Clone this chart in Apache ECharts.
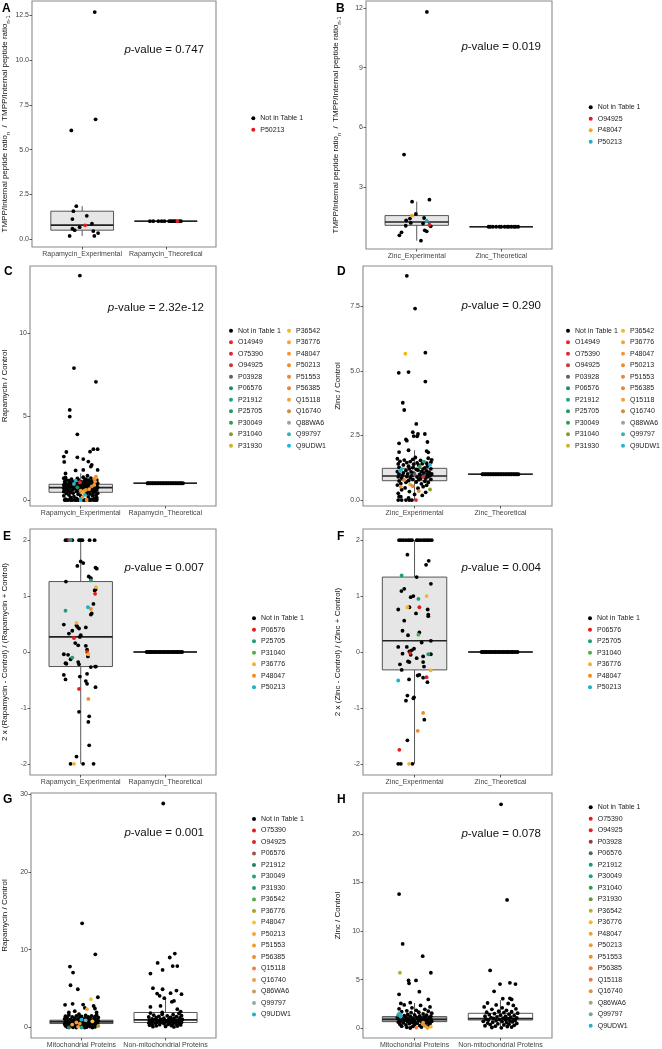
<!DOCTYPE html>
<html><head><meta charset="utf-8">
<script src="https://cdn.jsdelivr.net/npm/echarts@6/dist/echarts.min.js"></script>
<style>html,body{margin:0;padding:0;background:#fff}#c{width:662px;height:1049px}</style>
</head><body><div id="c"></div>
<script>
// ---------------- DATA ----------------
const catsRapa = ['Rapamycin_Experimental', 'Rapamycin_Theoretical'];
const catsZinc = ['Zinc_Experimental', 'Zinc_Theoretical'];
const catsMito = ['Mitochondrial Proteins', 'Non-mitochondrial Proteins'];

const legA = ['Not in Table 1', 'P50213'];
const legB = ['Not in Table 1', 'O94925', 'P48047', 'P50213'];
const legCD = ['Not in Table 1','O14949','O75390','O94925','P03928','P06576','P21912','P25705','P30049','P31040','P31930',
               'P36542','P36776','P48047','P50213','P51553','P56385','Q15118','Q16740','Q88WA6','Q99797','Q9UDW1'];
const legEF = ['Not in Table 1','P06576','P25705','P31040','P36776','P48047','P50213'];
const legG = ['Not in Table 1','O75390','O94925','P06576','P21912','P30049','P31930','P36542','P36776','P48047','P50213',
              'P51553','P56385','Q15118','Q16740','Q86WA6','Q99797','Q9UDW1'];
const legH = ['Not in Table 1','O75390','O94925','P03928','P06576','P21912','P30049','P31040','P31930','P36542','P36776',
              'P48047','P50213','P51553','P56385','Q15118','Q16740','Q86WA6','Q99797','Q9UDW1'];

const colA = ['#000000', '#e41a1c'];
const colB = ['#000000', '#e41a1c', '#f5a623', '#17b3c8'];
const colCD = ['#000000','#e8262a','#e0282e','#c83a3a','#606060','#1b8f6a','#20a57a','#1d9e5c','#27a04f','#8a9a2a','#d2b22a',
               '#f5b81c','#f7a33a','#f39532','#f38a2c','#f0832c','#f0803c','#f2a030','#c79040','#a0a0a0','#3cb0b0','#20b4d8'];
const colEF = ['#000000','#e41a1c','#1b9e77','#4daf4a','#f5b230','#f08a24','#17b3c8'];
const colG = ['#000000','#e41a1c','#d62728','#a0524d','#2a7f62','#1fa187','#22a06b','#4daf4a','#a8a030','#f5c242','#f5a53a',
              '#f59a30','#f08a30','#f08040','#f0a040','#c0a060','#88b0a8','#17b0c8'];
const colH = ['#000000','#e41a1c','#d62728','#9b3a3a','#4a6a5a','#1a9a7a','#1fa187','#2aa050','#5aa030','#b8b030','#f5b830',
              '#f5a030','#f59a30','#f08a30','#f08040','#f07a3a','#e09040','#b0a080','#70a8a0','#20b0d0'];

// points: [jitter, value, legendIndex]
const A_exp = [[0.15,12.68,0],[0.16,6.69,0],[-0.13,6.07,0],[-0.07,1.84,0],[-0.105,1.56,0],[0.055,1.30,0],[-0.117,1.12,0],
  [0.117,0.86,0],[0.035,0.77,1],[-0.03,0.67,0],[-0.117,0.58,0],[-0.09,0.50,0],[0.133,0.45,0],[0.19,0.34,0],[0.145,0.18,0],[-0.15,0.18,0]];
const A_theo = [[-0.19,1,0],[-0.15,1,0],[-0.09,1,0],[-0.05,1,0],[-0.016,1,0],[0.04,1,0],[0.06,1,0],[0.08,1,0],[0.1,1,0],
  [0.12,1,0],[0.14,1,1],[0.16,1,0],[0.18,1,0]];
const A_box = [[1,0.18,0.50,0.78,1.56,1.84],[2,1,1,1,1,1]];

const B_exp = [[0.12,11.8,0],[-0.15,4.63,0],[0.15,2.36,0],[-0.055,2.26,0],[-0.01,1.64,0],[-0.055,1.56,2],[0.087,1.44,0],
  [-0.08,1.41,0],[-0.125,1.32,0],[0.118,1.3,3],[-0.07,1.19,0],[0.075,1.16,0],[0.15,1.1,1],[-0.13,1.05,0],[0.165,1.02,0],
  [0.095,0.82,0],[0.118,0.77,0],[-0.18,0.72,0],[-0.205,0.57,0],[0.05,0.3,0]];
const B_theo = [[-0.15,1,0],[-0.13,1,0],[-0.1,1,0],[-0.06,1,0],[-0.02,1,0],[0.0,1,0],[0.04,1,0],[0.07,1,0],[0.09,1,0],
  [0.12,1,0],[0.15,1,0],[0.17,1,0],[0.2,1,0]];
const B_box = [[1,0.3,1.07,1.24,1.56,2.26],[2,1,1,1,1,1]];

const C_exp = [[-0.01,13.43,0],[-0.08,7.89,0],[0.18,7.07,0],[-0.13,5.39,0],[-0.13,4.99,0],[-0.04,3.93,0],[0.15,3.04,0],
  [0.2,3.04,0],[0.11,2.89,0],[-0.17,2.87,0],[-0.2,2.6,0],[-0.04,2.55,0],[0.03,2.45,0],[0.09,2.3,0],[-0.195,2.28,0],
  [0.13,2.1,0],[0.12,2.0,0],[0.03,1.8,0],[0.2,1.8,0],[-0.06,1.77,0],[-0.18,1.59,0],[0.08,1.45,0],[0.18,1.4,14],
  [-0.18,1.35,0],[0.03,1.36,0],[0.18,1.33,17],[-0.2,1.3,0],[-0.04,1.29,0],[0.12,1.31,0],[-0.11,1.25,0],[0.06,1.24,0],
  [0.16,1.26,14],[-0.17,1.2,0],[-0.03,1.21,0],[0.09,1.19,0],[0.19,1.2,0],[-0.14,1.15,0],[-0.06,1.16,21],[0.04,1.14,0],
  [0.14,1.15,0],[-0.19,1.1,0],[-0.09,1.11,0],[0.0,1.09,0],[0.11,1.1,0],[0.17,1.1,13],[-0.13,1.05,0],[-0.01,1.06,1],
  [0.06,1.04,0],[0.15,1.05,0],[-0.18,1.0,0],[-0.1,1.01,0],[-0.05,0.99,0],[0.03,1.0,0],[0.08,1.02,0],[0.13,0.98,0],
  [0.2,1.0,0],[-0.15,0.95,0],[-0.08,0.96,20],[0.02,0.94,0],[0.1,0.95,0],[0.18,0.93,0],[-0.2,0.9,0],[-0.12,0.91,0],
  [-0.03,0.89,0],[0.06,0.9,0],[0.11,0.91,0],[0.16,0.9,17],[-0.16,0.85,0],[-0.07,0.86,0],[0.01,0.84,0],[0.08,0.85,0],
  [0.14,0.86,0],[0.19,0.84,0],[-0.19,0.8,0],[-0.11,0.81,0],[-0.02,0.79,0],[0.04,0.8,0],[0.09,0.8,0],[0.13,0.81,15],
  [0.17,0.79,0],[-0.14,0.75,0],[-0.04,0.76,5],[0.05,0.74,0],[0.15,0.75,0],[0.2,0.76,0],[-0.2,0.7,0],[-0.16,0.71,0],
  [-0.08,0.69,0],[0.0,0.7,0],[0.07,0.71,0],[0.12,0.69,0],[0.18,0.7,0],[-0.13,0.65,0],[-0.06,0.66,0],[0.03,0.64,0],
  [0.1,0.65,12],[0.16,0.66,0],[-0.18,0.6,0],[-0.1,0.61,0],[-0.02,0.59,0],[0.06,0.6,14],[0.14,0.61,0],[0.19,0.6,0],
  [-0.15,0.55,0],[0.0,0.56,13],[0.04,0.54,10],[0.12,0.55,0],[-0.2,0.5,0],[-0.05,0.51,0],[0.09,0.49,0],[0.17,0.5,0],
  [-0.12,0.45,0],[0.02,0.46,11],[0.15,0.44,0],[-0.17,0.4,0],[-0.09,0.41,0],[0.07,0.39,0],[0.2,0.4,0],[-0.03,0.35,0],
  [0.11,0.36,0],[-0.14,0.3,0],[0.05,0.31,21],[0.18,0.29,0],[-0.2,0.25,0],[0.0,0.24,0],[0.14,0.26,0],[-0.08,0.2,0],
  [0.09,0.19,0],[-0.12,0.15,0],[0.02,0.16,13],[0.19,0.14,0],[-0.05,0.1,0],[0.16,0.09,0],[-0.18,0.05,0],[0.12,0.04,0],
  [-0.19,0,0],[-0.17,0,0],[-0.15,0,0],[-0.12,0,0],[-0.1,0,0],[-0.07,0,0],[-0.05,0,0],[-0.03,0,0],[0.0,0,21],[0.03,0,0],
  [0.05,0,0],[0.07,0,14],[0.1,0,0],[0.12,0,0],[0.15,0,0],[0.17,0,0],[0.19,0,0]];
const C_theo = [[-0.21,1,0],[-0.2,1,0],[-0.18,1,0],[-0.17,1,0],[-0.15,1,0],[-0.14,1,0],[-0.12,1,0],[-0.11,1,0],[-0.09,1,0],
  [-0.08,1,0],[-0.06,1,0],[-0.05,1,0],[-0.03,1,0],[-0.02,1,0],[0.0,1,0],[0.01,1,0],[0.03,1,0],[0.04,1,0],[0.06,1,0],
  [0.07,1,0],[0.09,1,0],[0.1,1,0],[0.12,1,0],[0.13,1,0],[0.15,1,0],[0.16,1,0],[0.18,1,0],[0.19,1,0],[0.21,1,0]];
const C_box = [[1,0,0.46,0.74,0.94,1.6],[2,1,1,1,1,1]];

const D_exp = [[-0.09,8.69,0],[0.006,7.42,0],[0.126,5.71,0],[-0.107,5.67,11],[-0.184,4.93,0],[-0.07,4.96,0],[0.126,4.59,0],
  [-0.137,3.77,0],[-0.12,3.49,0],[0.02,2.95,0],[-0.02,2.63,0],[-0.01,2.48,0],[0.03,2.47,0],[0.04,2.56,0],[0.12,2.56,0],
  [-0.1,2.35,0],[-0.09,2.3,0],[-0.18,2.2,0],[-0.07,1.93,0],[0.15,2.25,0],[0.16,1.85,0],[0.14,1.9,0],[-0.18,1.86,0],
  [0.01,1.65,0],
  [-0.2,1.6,0],[-0.02,1.58,0],[0.16,1.62,0],[-0.12,1.55,0],[0.07,1.54,0],[0.2,1.56,0],[-0.17,1.5,0],[-0.05,1.49,0],
  [0.11,1.49,6],[0.19,1.47,0],[-0.09,1.45,0],[0.03,1.44,0],[0.14,1.43,0],[-0.19,1.4,0],[-0.01,1.39,0],[0.09,1.41,0],
  [-0.13,1.36,0],[0.05,1.35,0],[0.18,1.36,21],[-0.07,1.31,0],[0.06,1.3,8],[0.15,1.32,0],[-0.18,1.27,0],[-0.02,1.26,0],
  [0.12,1.25,0],[-0.15,1.2,20],[-0.06,1.21,0],[0.02,1.19,0],[0.1,1.2,0],[0.19,1.21,0],[-0.17,1.14,21],[-0.1,1.15,0],
  [0.04,1.16,0],[0.14,1.13,0],[-0.2,1.1,0],[-0.04,1.09,0],[0.08,1.1,0],[0.17,1.08,0],[-0.13,1.05,0],[-0.01,1.04,0],
  [0.11,1.05,0],[-0.18,1.0,0],[-0.08,1.01,0],[0.0,1.0,4],[0.06,0.99,0],[0.15,1.0,0],[0.2,1.01,0],[-0.14,0.95,0],
  [-0.03,0.96,0],[0.09,0.94,0],[0.18,0.95,0],[-0.19,0.9,0],[-0.09,0.91,0],[0.03,0.89,0],[0.1,0.9,3],[0.16,0.91,0],
  [-0.15,0.85,0],[-0.05,0.86,0],[0.07,0.84,0],[0.13,0.85,0],[-0.12,0.78,14],[-0.02,0.8,0],[0.05,0.79,0],[0.19,0.8,0],
  [-0.18,0.74,0],[-0.07,0.75,0],[0.12,0.73,0],[-0.1,0.69,0],[0.02,0.7,0],[0.16,0.68,0],[-0.16,0.64,0],[-0.05,0.6,10],
  [0.08,0.63,0],[-0.2,0.58,0],[0.14,0.57,0],[-0.16,0.52,13],[-0.02,0.54,16],[0.1,0.52,0],[-0.11,0.47,0],[0.04,0.46,0],
  [0.18,0.41,9],[-0.15,0.4,0],[0.05,0.35,15],[-0.06,0.33,0],[0.13,0.3,0],[-0.19,0.26,0],[0.0,0.22,0],[0.09,0.18,0],
  [-0.18,0.13,0],[-0.16,0.13,0],[-0.07,0.08,0],[-0.19,0,0],[-0.15,0,0],[-0.1,0,0],[-0.06,0,0],[-0.03,0,0],[0.017,0,1]];
const D_theo = [[-0.21,1,0],[-0.2,1,0],[-0.18,1,0],[-0.17,1,0],[-0.15,1,0],[-0.14,1,0],[-0.12,1,0],[-0.11,1,0],[-0.09,1,0],
  [-0.08,1,0],[-0.06,1,0],[-0.05,1,0],[-0.03,1,0],[-0.02,1,0],[0.0,1,0],[0.01,1,0],[0.03,1,0],[0.04,1,0],[0.06,1,0],
  [0.07,1,0],[0.09,1,0],[0.1,1,0],[0.12,1,0],[0.13,1,0],[0.15,1,0],[0.16,1,0],[0.18,1,0],[0.19,1,0],[0.21,1,0]];
const D_box = [[1,0,0.75,0.93,1.23,1.93],[2,1,1,1,1,1]];

const E_exp = [[-0.18,2,0],[-0.16,2,0],[-0.137,2,1],[-0.12,2,2],[-0.1,2,0],[-0.02,2,0],[0,2,0],[0.02,2,0],[0.105,2,0],[0.164,2,0],
  [0,1.62,0],[0.03,1.59,0],[-0.04,1.54,0],[0.175,1.51,0],[0.19,1.49,0],[0.095,1.35,0],[0.12,1.32,0],[-0.175,1.26,0],
  [0.12,1.28,2],[0.175,1.12,0],[0.18,1.16,4],[0.165,1.10,0],[0.17,1.04,1],[-0.18,0.74,2],[0.085,0.80,6],[0.12,0.77,5],
  [0.15,0.86,0],[0.13,0.69,0],[0.12,0.67,0],[-0.2,0.49,0],[-0.05,0.52,4],[-0.05,0.48,0],[0.06,0.44,0],[-0.04,0.45,0],
  [-0.02,0.42,0],[-0.1,0.38,0],[-0.14,0.33,0],[0,0.30,0],[-0.01,0.27,0],[-0.08,0.25,1],[-0.065,0.16,0],[-0.03,0.12,0],
  [-0.2,-0.04,0],[-0.15,-0.05,0],[0.06,0.11,0],[0.075,0.04,0],[0.075,0,1],[0.09,-0.04,4],[0.085,-0.08,0],[-0.18,-0.2,0],
  [-0.17,-0.21,0],[-0.1,-0.1,2],[-0.12,-0.13,0],[-0.03,-0.18,0],[-0.02,-0.22,0],[0.12,-0.27,0],[0.17,-0.26,0],
  [0.18,-0.26,0],[-0.01,-0.44,0],[-0.2,-0.41,0],[-0.18,-0.49,0],[0.075,-0.39,0],[0.06,-0.52,0],[0.075,-0.57,0],
  [0.175,-0.63,0],[-0.02,-0.66,1],[0.09,-0.84,5],[-0.02,-1.07,0],[0.1,-1.15,0],[0.09,-1.25,0],[0.1,-1.67,0],
  [-0.05,-1.87,0],[-0.12,-2,0],[-0.08,-2,4],[0.028,-2,0],[0.152,-2,0]];
const E_theo = [[-0.22,0,0],[-0.2,0,0],[-0.19,0,0],[-0.17,0,0],[-0.16,0,0],[-0.14,0,0],[-0.12,0,0],[-0.11,0,0],[-0.09,0,0],
  [-0.07,0,0],[-0.06,0,0],[-0.04,0,0],[-0.02,0,0],[-0.01,0,0],[0.01,0,0],[0.03,0,0],[0.04,0,0],[0.06,0,0],[0.08,0,0],
  [0.09,0,0],[0.11,0,0],[0.13,0,0],[0.14,0,0],[0.16,0,0],[0.18,0,0],[0.2,0,0]];
const E_box = [[1,-2,-0.26,0.27,1.26,2],[2,0,0,0,0,0]];

const F_exp = [[-0.18,2,0],[-0.157,2,0],[-0.13,2,0],[-0.1,2,0],[-0.072,2,0],[-0.052,2,0],[-0.029,2,0],[0.025,2,0],[0.045,2,0],
  [0.072,2,0],[0.103,2,0],[0.126,2,0],[0.15,2,0],[0.173,2,0],[0.2,2,0],[-0.083,1.74,0],[0.165,1.63,0],[0.134,1.56,0],
  [-0.15,1.37,2],[0.025,1.34,0],[0.19,1.22,0],[-0.12,1.13,0],[-0.153,1.09,0],[0.14,1.0,4],[-0.014,1.0,0],[-0.045,0.98,0],
  [0.045,0.95,2],[-0.19,0.76,0],[-0.083,0.8,4],[-0.06,0.8,0],[0.056,0.8,1],[0.153,0.76,0],[0.16,0.67,0],[0.16,0.64,0],
  [0.017,0.69,0],[-0.12,0.56,0],[-0.14,0.38,0],[0.045,0.31,3],[0.056,0.35,0],[-0.076,0.30,0],[0.19,0.2,0],[0.083,0.17,0],
  [-0.19,0.09,0],[-0.09,0.09,0],[-0.006,0.06,0],[-0.033,0.03,0],[-0.06,0.01,0],[-0.052,-0.02,1],[-0.045,-0.05,0],
  [-0.14,-0.03,0],[0.16,-0.04,2],[0.19,-0.04,0],[0.1,-0.08,0],[0.025,-0.11,0],[-0.076,-0.17,0],[-0.06,-0.18,0],
  [-0.17,-0.22,0],[0.1,-0.18,0],[0.11,-0.26,0],[-0.15,-0.32,0],[0.188,-0.33,4],[0.056,-0.41,0],[0.037,-0.42,0],
  [0.14,-0.45,1],[0.1,-0.46,0],[-0.064,-0.49,0],[0.15,-0.54,0],[-0.19,-0.51,6],[-0.083,-0.78,0],[-0.1,-0.87,0],
  [-0.006,-0.81,0],[-0.014,-0.83,0],[0.1,-1.09,5],[0.114,-1.21,0],[0.037,-1.41,5],[-0.083,-1.58,0],[-0.177,-1.75,1],
  [-0.19,-2,0],[-0.16,-2,0],[-0.064,-2,4],[-0.025,-2,0]];
const F_theo = [[-0.22,0,0],[-0.2,0,0],[-0.19,0,0],[-0.17,0,0],[-0.16,0,0],[-0.14,0,0],[-0.12,0,0],[-0.11,0,0],[-0.09,0,0],
  [-0.07,0,0],[-0.06,0,0],[-0.04,0,0],[-0.02,0,0],[-0.01,0,0],[0.01,0,0],[0.03,0,0],[0.04,0,0],[0.06,0,0],[0.08,0,0],
  [0.09,0,0],[0.11,0,0],[0.13,0,0],[0.14,0,0],[0.16,0,0],[0.18,0,0],[0.2,0,0]];
const F_box = [[1,-2,-0.32,0.2,1.34,2],[2,0,0,0,0,0]];

const G_mito = [[0.008,13.39,0],[0.165,9.41,0],[-0.137,7.83,0],[-0.1,7.06,0],[-0.13,5.43,0],[-0.043,4.92,0],[0.195,3.89,0],
  [0.113,3.64,9],[-0.195,2.91,0],[-0.105,3.04,0],[0.02,2.95,0],[0.04,2.52,0],[0.066,2.35,10],[0.16,2.44,0],[0.145,2.78,0],
  [-0.08,2.1,0],[-0.15,1.93,0],[-0.03,1.71,0],[0.18,1.93,0],
  [-0.15,1.6,0],[0.05,1.55,0],[0.18,1.62,0],[-0.06,1.5,0],[0.12,1.48,0],[-0.19,1.45,0],[0.0,1.42,0],[0.16,1.4,0],
  [-0.11,1.36,0],[0.08,1.35,0],[-0.02,1.3,0],[0.2,1.3,0],[-0.17,1.26,0],[0.1,1.24,0],[-0.08,1.2,0],[0.04,1.18,0],
  [0.15,1.15,0],[-0.2,1.12,0],[-0.04,1.1,0],[0.07,1.08,0],[0.18,1.05,0],[-0.13,1.03,0],[0.0,1.0,17],[0.11,0.98,0],
  [-0.18,0.96,0],[-0.07,0.94,0],[0.05,0.92,16],[0.16,0.9,0],[-0.1,0.88,0],[0.2,0.86,0],[-0.15,0.84,0],[0.02,0.82,0],
  [0.13,0.8,9],[-0.03,0.78,0],[-0.19,0.76,0],[0.08,0.74,0],[0.18,0.72,0],[-0.12,0.7,0],[0.0,0.68,0],[0.1,0.66,0],
  [-0.06,0.64,11],[-0.17,0.62,0],[0.15,0.6,0],[0.05,0.58,0],[-0.09,0.56,0],[0.19,0.54,0],[-0.14,0.52,0],[-0.02,0.5,12],
  [0.09,0.48,0],[-0.2,0.46,0],[0.14,0.44,0],[-0.05,0.42,0],[0.03,0.4,0],[-0.11,0.38,10],[0.17,0.36,0],[-0.16,0.33,0],
  [0.07,0.31,0],[-0.01,0.29,0],[0.12,0.26,0],[-0.08,0.24,0],[-0.19,0.21,0],[0.2,0.19,8],[0.02,0.17,0],[-0.13,0.14,0],
  [0.1,0.12,0],[-0.04,0.09,14],[0.16,0.07,0],[-0.17,0.05,0],[0.06,0.04,0],[-0.1,0.02,0],[-0.06,0,0],[0.0,0,5],
  [0.04,0,0],[0.13,0,0],[-0.15,0,4]];
const G_non = [[-0.027,28.8,0],[-0.094,8.3,0],[0.11,9.5,0],[0.05,9.0,0],[0.085,7.9,0],[0.14,7.9,0],[-0.035,7.4,0],
  [-0.18,6.93,0],[-0.15,5.05,0],[-0.035,4.92,0],[0.13,4.75,0],[0.06,4.41,0],[0.19,4.28,0],[-0.1,4.36,0],[-0.07,4.07,0],
  [-0.015,3.77,0],[0.075,3.3,0],[0.1,3.42,0],[-0.18,2.65,0],[-0.06,2.78,0],[0.14,2.35,0],[-0.04,1.93,0],[0.18,2.05,0],
  [-0.18,1.85,0],[0.16,1.8,0],[-0.04,1.7,0],[0.09,1.65,0],[-0.14,1.58,0],[0.19,1.52,0],[0.02,1.5,0],[-0.08,1.44,0],
  [0.13,1.4,0],[-0.2,1.35,0],[0.06,1.3,0],[-0.11,1.26,0],[0.17,1.22,0],[-0.02,1.2,0],[0.1,1.16,0],[-0.16,1.12,0],
  [0.04,1.1,0],[-0.06,1.06,0],[0.2,1.04,0],[-0.13,1.0,0],[0.07,0.98,0],[0.14,0.96,0],[-0.19,0.94,0],[-0.01,0.92,0],
  [0.11,0.9,0],[-0.09,0.88,0],[0.18,0.86,0],[0.03,0.84,0],[-0.15,0.82,0],[0.08,0.8,0],[-0.04,0.78,0],[0.15,0.76,0],
  [-0.18,0.74,0],[0.0,0.72,0],[0.12,0.7,0],[-0.1,0.68,0],[0.19,0.66,0],[-0.06,0.64,0],[0.05,0.62,0],[-0.2,0.6,0],
  [0.16,0.58,0],[-0.12,0.55,0],[0.09,0.52,0],[-0.02,0.5,0],[0.13,0.46,0],[-0.16,0.43,0],[0.03,0.4,0],[-0.07,0.36,0],
  [0.18,0.33,0],[-0.19,0.3,0],[0.07,0.26,0],[-0.11,0.22,0],[0.14,0.18,0],[0.0,0.14,0],[-0.15,0.1,0],[0.1,0.08,0]];
const G_box = [[1,0,0.51,0.73,0.94,1.6],[2,0.05,0.64,0.98,1.93,3.77]];

const H_mito = [[-0.18,13.8,0],[-0.138,8.68,0],[0.095,7.42,0],[-0.17,5.71,9],[0.19,5.71,0],[-0.07,4.92,0],[0.017,4.92,0],
  [-0.064,4.62,0],[0.056,3.76,0],[-0.18,3.49,0],[-0.16,2.56,0],[-0.05,2.63,0],[0.16,2.97,0],
  [-0.12,2.4,0],[0.07,2.35,0],[0.18,2.2,0],[-0.03,2.1,0],[-0.18,2.0,0],[0.12,1.95,0],[0.02,1.85,0],[-0.09,1.8,0],
  [0.16,1.75,0],[-0.15,1.7,0],[0.05,1.65,0],[-0.04,1.6,0],[0.2,1.55,0],[-0.18,1.52,18],[-0.17,1.45,19],[0.1,1.48,0],
  [-0.08,1.42,0],[0.0,1.38,0],[-0.19,1.35,5],[0.14,1.35,0],[-0.12,1.3,0],[0.06,1.27,0],[0.19,1.25,0],[-0.05,1.22,0],
  [-0.16,1.2,19],[0.11,1.18,0],[0.02,1.15,0],[-0.1,1.12,0],[0.17,1.1,0],[-0.2,1.08,0],[0.07,1.05,0],[-0.02,1.02,0],
  [0.13,1.0,0],[-0.14,0.98,0],[0.04,0.96,0],[-0.07,0.94,0],[0.19,0.92,0],[0.09,0.9,0],[-0.18,0.88,0],[-0.01,0.86,0],
  [0.15,0.84,0],[-0.11,0.82,0],[0.05,0.8,0],[-0.04,0.78,0],[0.12,0.76,0],[-0.16,0.74,0],[0.2,0.72,0],[0.0,0.7,0],
  [-0.08,0.68,0],[0.08,0.66,0],[-0.19,0.64,0],[0.16,0.62,0],[-0.03,0.6,0],[0.1,0.57,11],[-0.13,0.55,0],[0.03,0.52,0],
  [0.18,0.5,0],[-0.06,0.47,0],[0.13,0.44,0],[-0.17,0.42,0],[0.1,0.4,13],[0.0,0.37,0],[-0.1,0.34,0],[0.17,0.31,0],
  [0.06,0.28,0],[0.12,0.24,9],[-0.15,0.22,0],[-0.02,0.19,0],[0.19,0.16,10],[0.08,0.13,0],[-0.09,0.1,0],[0.02,0.07,15],
  [0.15,0.05,12],[-0.05,0.03,0]];
const H_non = [[0.007,23.04,0],[0.077,13.2,0],[-0.12,5.95,0],[-0.005,4.55,0],[0.11,4.68,0],[0.175,4.55,0],[-0.074,3.8,0],
  [0.027,3.04,0],[0.11,3.08,0],[0.13,2.97,0],
  [-0.15,2.6,0],[0.09,2.55,0],[-0.05,2.4,0],[0.15,2.35,0],[-0.19,2.2,0],[0.02,2.1,0],[0.18,2.0,0],[-0.1,1.95,0],
  [0.07,1.85,0],[-0.02,1.75,0],[0.13,1.7,0],[-0.16,1.65,0],[0.04,1.6,0],[0.2,1.55,0],[-0.07,1.5,0],[0.1,1.45,0],
  [-0.13,1.4,0],[0.0,1.35,0],[0.16,1.3,0],[-0.18,1.25,0],[0.06,1.22,0],[-0.04,1.18,0],[0.12,1.15,0],[-0.11,1.1,0],
  [0.19,1.07,0],[0.03,1.04,0],[-0.08,1.01,0],[0.09,0.98,0],[-0.17,0.95,0],[0.15,0.92,0],[-0.01,0.9,0],[0.06,0.87,0],
  [-0.14,0.84,0],[0.17,0.81,0],[-0.05,0.78,0],[0.11,0.75,0],[-0.2,0.72,0],[0.02,0.69,0],[0.14,0.65,0],[-0.09,0.62,0],
  [0.07,0.58,0],[-0.15,0.54,0],[0.19,0.5,0],[-0.03,0.46,0],[0.1,0.42,0],[-0.12,0.38,0],[0.04,0.34,0],[0.16,0.3,0],
  [-0.18,0.26,0],[-0.06,0.22,0],[0.08,0.18,0],[0.13,0.12,0],[-0.1,0.08,0],[0.01,0.05,0]];
const H_box = [[1,0.03,0.68,0.92,1.2,2.6],[2,0.05,0.85,0.99,1.54,2.9]];

const yTicksA = [0, 2.5, 5, 7.5, 10, 12.5];
const yTicksB = [3, 6, 9, 12];
const yTicksC = [0, 5, 10];
const yTicksD = [0, 2.5, 5, 7.5];
const yTicksEF = [-2, -1, 0, 1, 2];
const yTicksG = [0, 10, 20, 30];
const yTicksH = [0, 5, 10, 15, 20];

const pValues = ['0.747', '0.019', '2.32e-12', '0.290', '0.007', '0.004', '0.001', '0.078'];

// ---------------- LAYOUT ----------------
const FONT = '"Liberation Sans", Arial, sans-serif';
const ratioName = '{t|TMPP/Internal peptide ratio}{s|n}{t|  /  TMPP/Internal peptide ratio}{s|n-1}';
const panels = [
  {id:'A', grid:{left:28, top:1, width:188, height:246}, y:[-0.44,13.3], ticks:yTicksA, dec:1, cats:catsRapa,
   p1:A_exp, p2:A_theo, box:A_box, fill:['#e6e6e6','#e6e6e6'], leg:legA, col:colA, name:ratioName, gap:21,
   legends:[{left:251.3, top:112.5, from:0, to:2}], pRight:204, pY:50, letter:[2,2.5]},
  {id:'B', grid:{left:366, top:1, width:186, height:248}, y:[-0.12,12.35], ticks:yTicksB, dec:0, cats:catsZinc,
   p1:B_exp, p2:B_theo, box:B_box, fill:['#e6e6e6','#e6e6e6'], leg:legB, col:colB, name:ratioName, gap:24,
   legends:[{left:588.7, top:101.6, from:0, to:4}], pRight:541, pY:47, letter:[336,2.5]},
  {id:'C', grid:{left:28, top:266, width:188, height:240}, y:[-0.36,14.0], ticks:yTicksC, dec:0, cats:catsRapa,
   p1:C_exp, p2:C_theo, box:C_box, fill:['#e6e6e6','#e6e6e6'], leg:legCD, col:colCD, name:'Rapamycin / Control', gap:21,
   legends:[{left:229, top:325, from:0, to:11},{left:287, top:325, from:11, to:22}], pRight:204, pY:308, letter:[4,265.5]},
  {id:'D', grid:{left:363, top:266, width:189, height:240}, y:[-0.23,9.07], ticks:yTicksD, dec:1, cats:catsZinc,
   p1:D_exp, p2:D_theo, box:D_box, fill:['#e6e6e6','#e6e6e6'], leg:legCD, col:colCD, name:'Zinc / Control', gap:21,
   legends:[{left:566, top:325, from:0, to:11},{left:621, top:325, from:11, to:22}], pRight:541, pY:306, letter:[337,265.5]},
  {id:'E', grid:{left:28, top:529, width:188, height:246}, y:[-2.2,2.2], ticks:yTicksEF, dec:0, cats:catsRapa,
   p1:E_exp, p2:E_theo, box:E_box, fill:['#e6e6e6','#e6e6e6'], leg:legEF, col:colEF,
   name:'2 x (Rapamycin - Control) / (Rapamycin + Control)', gap:21,
   legends:[{left:252, top:612.6, from:0, to:7}], pRight:204, pY:568, letter:[3,530.5]},
  {id:'F', grid:{left:363, top:529, width:189, height:246}, y:[-2.2,2.2], ticks:yTicksEF, dec:0, cats:catsZinc,
   p1:F_exp, p2:F_theo, box:F_box, fill:['#e6e6e6','#e6e6e6'], leg:legEF, col:colEF,
   name:'2 x (Zinc - Control) / (Zinc + Control)', gap:21,
   legends:[{left:588, top:612.6, from:0, to:7}], pRight:541, pY:568, letter:[337,530.5]},
  {id:'G', grid:{left:28, top:793, width:188, height:245}, y:[-1.35,30.15], ticks:yTicksG, dec:0, cats:catsMito,
   p1:G_mito, p2:G_non, box:G_box, fill:['#8f8f8f','#ffffff'], leg:legG, col:colG, name:'Rapamycin / Control', gap:22,
   legends:[{left:252, top:813.3, from:0, to:18}], pRight:204, pY:833, letter:[3,793.5]},
  {id:'H', grid:{left:363, top:793, width:189, height:245}, y:[-1.0,24.2], ticks:yTicksH, dec:0, cats:catsMito,
   p1:H_mito, p2:H_non, box:H_box, fill:['#a8a8a8','#ffffff'], leg:legH, col:colH, name:'Zinc / Control', gap:21,
   legends:[{left:588.7, top:801.6, from:0, to:20}], pRight:541, pY:834, letter:[337,793.5]}
];

function renderBox(fills) {
  return function (params, api) {
    const x = api.value(0), lo = api.value(1), q1 = api.value(2), med = api.value(3), q3 = api.value(4), hi = api.value(5);
    const hw = 0.375;
    const tl = api.coord([x - hw, q3]), br = api.coord([x + hw, q1]);
    const m1 = api.coord([x - hw, med]), m2 = api.coord([x + hw, med]);
    const wHi = api.coord([x, hi]), wQ3 = api.coord([x, q3]), wQ1 = api.coord([x, q1]), wLo = api.coord([x, lo]);
    const children = [
      {type:'line', shape:{x1:wHi[0], y1:wHi[1], x2:wQ3[0], y2:wQ3[1]}, style:{stroke:'#444', lineWidth:0.9}},
      {type:'line', shape:{x1:wQ1[0], y1:wQ1[1], x2:wLo[0], y2:wLo[1]}, style:{stroke:'#444', lineWidth:0.9}},
      {type:'rect', shape:{x:tl[0], y:tl[1], width:br[0]-tl[0], height:br[1]-tl[1]},
       style:{fill:fills[params.dataIndex], stroke:'#444', lineWidth:0.9}},
      {type:'line', shape:{x1:m1[0], y1:m1[1], x2:m2[0], y2:m2[1]}, style:{stroke:'#222', lineWidth:1.6}}
    ];
    return {type:'group', children};
  };
}

const option = {animation:false, backgroundColor:'#fff', grid:[], xAxis:[], yAxis:[], series:[], legend:[], graphic:[]};

panels.forEach((P, i) => {
  option.grid.push(Object.assign({show:true, borderColor:'#8a8a8a', borderWidth:1.1, backgroundColor:'#fff'}, P.grid));
  option.xAxis.push({type:'value', gridIndex:i, min:0.4, max:2.6, position:'bottom',
    axisLine:{show:false, onZero:false}, splitLine:{show:false},
    axisTick:{show:true, length:2.5, lineStyle:{color:'#333', width:0.8}, customValues:[1,2]},
    axisLabel:{customValues:[1,2], margin:3.5, fontSize:7, color:'#444', fontFamily:FONT,
      formatter: v => P.cats[Math.round(v) - 1]}});
  option.yAxis.push({type:'value', gridIndex:i, min:P.y[0], max:P.y[1], position:'left',
    axisLine:{show:false, onZero:false}, splitLine:{show:false},
    axisTick:{show:true, length:2.5, lineStyle:{color:'#333', width:0.8}, customValues:P.ticks},
    axisLabel:{customValues:P.ticks, margin:3, fontSize:7, color:'#444', fontFamily:FONT,
      formatter: v => v.toFixed(P.dec)},
    name:P.name, nameLocation:'middle', nameGap:P.gap,
    nameTextStyle:{fontSize:8, color:'#111', fontFamily:FONT,
      rich:{t:{fontSize:8, color:'#111', fontFamily:FONT, lineHeight:12, verticalAlign:'middle'},
            s:{fontSize:5.5, color:'#111', fontFamily:FONT, lineHeight:6, verticalAlign:'bottom'}}}});
  option.series.push({type:'custom', xAxisIndex:i, yAxisIndex:i, z:1, silent:true,
    renderItem: renderBox(P.fill), encode:{x:0, y:[1,2,3,4,5]}, data:P.box});
  P.leg.forEach((g, gi) => {
    const pts = [];
    P.p1.forEach(p => { if (p[2] === gi) pts.push([1 + p[0], p[1]]); });
    P.p2.forEach(p => { if (p[2] === gi) pts.push([2 + p[0], p[1]]); });
    option.series.push({type:'scatter', name:P.id + '|' + g, xAxisIndex:i, yAxisIndex:i, z: gi === 0 ? 3 : 4,
      symbol:'circle', symbolSize:3.8, itemStyle:{color:P.col[gi], opacity:1}, silent:true, data:pts});
  });
  P.legends.forEach(L => {
    option.legend.push({orient:'vertical', left:L.left, top:L.top, padding:0, itemGap:0, icon:'circle',
      itemWidth:4, itemHeight:4, selectedMode:false,
      textStyle:{fontSize:7, color:'#222', fontFamily:FONT, lineHeight:11.5},
      formatter: n => n.split('|')[1],
      data: P.leg.slice(L.from, L.to).map(g => P.id + '|' + g)});
  });
  option.graphic.push({type:'text', left:P.letter[0], top:P.letter[1],
    style:{text:P.id, font:'bold 12px ' + FONT, fill:'#000'}});
  option.graphic.push({type:'text', x:P.pRight, y:P.pY,
    style:{text:'{i|p}{n|-value = ' + pValues[i] + '}', align:'right', verticalAlign:'middle',
      textAlign:'right', textVerticalAlign:'middle', fill:'#111',
      rich:{i:{fontStyle:'italic', fontSize:11.5, fontFamily:FONT, fill:'#111'},
            n:{fontSize:11.5, fontFamily:FONT, fill:'#111'}}}});
});

const chart = echarts.init(document.getElementById('c'), null, {renderer:'canvas'});
chart.setOption(option);
</script>
</body></html>
